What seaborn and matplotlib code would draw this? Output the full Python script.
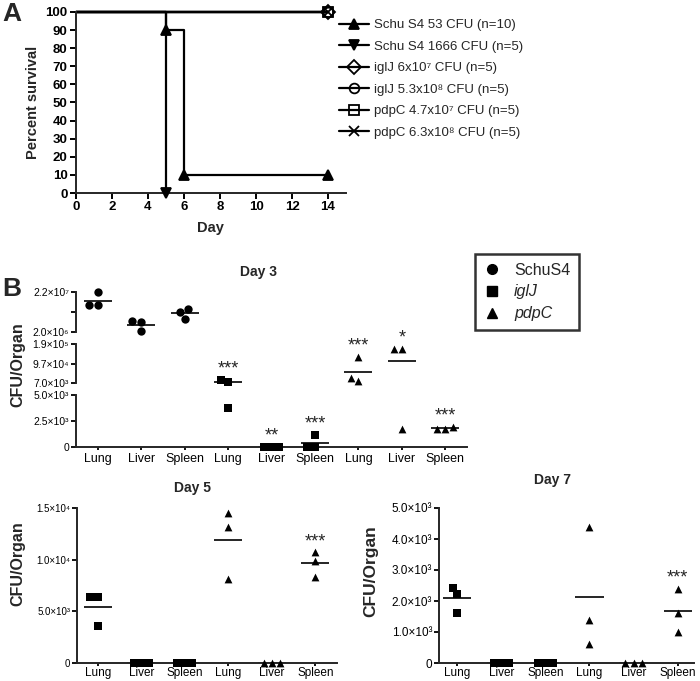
"""
Survival after infection (A) and organ burden on days 3, 5 and 7 (B)
"""
import matplotlib
matplotlib.use("Agg")
import numpy as np
import pandas as pd
import matplotlib.pyplot as plt
from matplotlib.lines import Line2D
import seaborn as sns

# ---- panel A: percent survival over days ----
SURV_LABELS = ["Schu S4 53 CFU (n=10)", "Schu S4 1666 CFU (n=5)",
               "iglJ 6x10⁷ CFU (n=5)", "iglJ 5.3x10⁸ CFU (n=5)",
               "pdpC 4.7x10⁷ CFU (n=5)", "pdpC 6.3x10⁸ CFU (n=5)"]
SURV_DAYS = [[0, 5, 6, 14], [0, 5], [0, 14], [0, 14], [0, 14], [0, 14]]
SURV_PCT = [[100, 90, 10, 10], [100, 0], [100, 100], [100, 100],
            [100, 100], [100, 100]]
SURV_MARKERS = ["^", "v", "D", "o", "s", "x"]
DAY_TICKS = list(range(0, 15, 2))
PCT_TICKS = list(range(0, 101, 10))

# ---- panel B: CFU per organ, three mice per organ ----
ORGANS = ["Lung", "Liver", "Spleen"]
D3_SCHUS4 = [[2.2e7, 1.55e7, 1.55e7], [7.5e6, 7.0e6, 2.5e6], [1.35e7, 1.2e7, 8.5e6]]
D3_IGLJ = [[2.1e4, 1.17e4, 3.75e3], [0, 0, 0], [1150, 0, 0]]
D3_PDPC = [[1.29e5, 3.05e4, 1.64e4], [1.66e5, 1.66e5, 1.73e3], [1.92e3, 1.75e3, 1.75e3]]
D3_STARS = ["", "", "", "***", "**", "***", "***", "*", "***"]
# broken y axis of day 3: (low, high) of each segment, top to bottom
D3_SEGMENTS = [(2.0e6, 2.2e7), (7.0e3, 1.9e5), (0, 5.0e3)]
D3_TICKS = [[2.0e6, 1.2e7, 2.2e7], [7.0e3, 9.7e4, 1.9e5], [0, 2.5e3, 5.0e3]]
D3_TICKLABELS = [["2.0×10⁶", "", "2.2×10⁷"],
                 ["7.0×10³", "9.7×10⁴", "1.9×10⁵"],
                 ["0", "2.5×10³", "5.0×10³"]]

D5_IGLJ = [[6.38e3, 6.38e3, 3.58e3], [0, 0, 0], [0, 0, 0]]
D5_PDPC = [[14.5e3, 13.15e3, 8.1e3], [0, 0, 0], [10.7e3, 9.9e3, 8.3e3]]
D5_STARS = ["", "", "", "", "", "***"]
D5_TICKS = [0, 5.0e3, 1.0e4, 1.5e4]
D5_TICKLABELS = ["0", "5.0×10³", "1.0×10⁴", "1.5×10⁴"]

D7_IGLJ = [[2.42e3, 2.23e3, 1.61e3], [0, 0, 0], [0, 0, 0]]
D7_PDPC = [[4.39e3, 1.39e3, 0.61e3], [0, 0, 0], [2.39e3, 1.61e3, 1.0e3]]
D7_STARS = ["", "", "", "", "", "***"]
D7_TICKS = [0, 1.0e3, 2.0e3, 3.0e3, 4.0e3, 5.0e3]
D7_TICKLABELS = ["0", "1.0×10³", "2.0×10³", "3.0×10³", "4.0×10³", "5.0×10³"]

MARKS = {"SchuS4": ("o", 6.0), "iglJ": ("s", 5.2), "pdpC": ("^", 5.6)}

sns.set_style("ticks")
plt.rcParams["font.family"] = ["Liberation Sans", "DejaVu Sans"]
plt.rcParams["axes.linewidth"] = 1.4

W, H = 700, 681
fig = plt.figure(figsize=(W / 100, H / 100), dpi=100)


def box(l, t, r, b):
    return [l / W, 1 - b / H, (r - l) / W, (b - t) / H]


def style_ticks(ax, size):
    ax.tick_params(axis="y", direction="out", length=3.5, width=1.3, pad=1.5,
                   labelsize=size, colors="black")
    ax.tick_params(axis="x", direction="out", length=2.2, width=1.3, pad=0.8,
                   labelsize=8.5, colors="black")


# ================= A =================
axA = fig.add_axes(box(76, 12, 346, 193))
for days, pct, mk in zip(SURV_DAYS, SURV_PCT, SURV_MARKERS):
    sns.lineplot(x=days, y=pct, drawstyle="steps-post", color="black",
                 linewidth=1.6, estimator=None, sort=False, ax=axA,
                 clip_on=False)
    axA.plot(days[1:], pct[1:], ls="none", marker=mk, ms=7,
             mfc="black" if mk in "^v" else "none", mec="black", mew=1.3,
             clip_on=False, zorder=5)
axA.set_xlim(0, 15)
axA.set_ylim(0, 100)
axA.set_xticks(DAY_TICKS)
axA.set_yticks(PCT_TICKS)
axA.set_xlabel("")
axA.set_ylabel("")
sns.despine(ax=axA)
axA.tick_params(direction="out", length=4, width=1.4, pad=2,
                labelsize=9.5, colors="black")
for t in axA.get_xticklabels() + axA.get_yticklabels():
    t.set_fontweight("bold")
fig.text(33 / W, 1 - 102 / H, "Percent survival", rotation=90, ha="center",
         va="center", fontsize=10.5, fontweight="bold")
fig.text(210 / W, 1 - 228 / H, "Day", ha="center", va="center",
         fontsize=10.5, fontweight="bold")

handles = [Line2D([0], [0], color="black", lw=1.6, marker=mk, ms=7,
                  mfc="black" if mk in "^v" else "none", mec="black", mew=1.3)
           for mk in SURV_MARKERS]
fig.legend(handles, SURV_LABELS, loc="upper left",
           bbox_to_anchor=(339 / W, 1 - 19 / H), frameon=False, fontsize=9.5,
           handlelength=2.3, handletextpad=0.35, labelspacing=0.7,
           borderpad=0, borderaxespad=0)

fig.text(12 / W, 1 - 14 / H, "A", ha="center", va="center", fontsize=19,
         fontweight="bold")
fig.text(12 / W, 1 - 289 / H, "B", ha="center", va="center", fontsize=19,
         fontweight="bold")


# ================= B =================
def long_table(groups):
    rows = []
    for pos, (strain, vals) in enumerate(groups):
        for v in vals:
            rows.append((pos, strain, v))
    return pd.DataFrame(rows, columns=["pos", "strain", "cfu"])


def draw_points(ax, df, n, lo, hi):
    sub = df[(df.cfu >= lo) & (df.cfu <= hi)]
    for strain, (mk, sz) in MARKS.items():
        part = sub[sub.strain == strain]
        if len(part):
            sns.swarmplot(data=part, x="pos", y="cfu", order=list(range(n)),
                          color="black", marker=mk, size=sz, ax=ax,
                          clip_on=False, zorder=3)
    means = df.groupby("pos").cfu.mean()
    ax.hlines(means.values, means.index - 0.32, means.index + 0.32,
              color="black", lw=1.2, zorder=2)


def star(ax, pos, y, s):
    ax.annotate(s, (pos, y), xytext=(0, 4.5), textcoords="offset points",
                ha="center", va="baseline", fontsize=13,
                annotation_clip=False)


def add_stars(ax, df, stars):
    top = df.groupby("pos").cfu.max()
    for pos, s in enumerate(stars):
        if s:
            star(ax, pos, top[pos], s)


def organ_axis(ax, n):
    ax.set_xticks(range(n))
    ax.set_xticklabels((ORGANS * 3)[:n])
    ax.set_xlabel("")
    ax.set_ylabel("")


# ---- day 3, three stacked segments ----
d3 = long_table([("SchuS4", v) for v in D3_SCHUS4] +
                [("iglJ", v) for v in D3_IGLJ] +
                [("pdpC", v) for v in D3_PDPC])
seg_px = [(292, 332), (344, 383), (395, 447)]
d3_axes = []
for k, ((lo, hi), (t, b)) in enumerate(zip(D3_SEGMENTS, seg_px)):
    ax = fig.add_axes(box(76, t, 467, b))
    draw_points(ax, d3, 9, lo, hi)
    ax.set_xlim(-0.5, 8.5)
    ax.set_ylim(lo, hi)
    ax.set_yticks(D3_TICKS[k])
    ax.set_yticklabels(D3_TICKLABELS[k])
    sns.despine(ax=ax, bottom=(k < 2))
    if k < 2:
        ax.set_xticks([])
    else:
        organ_axis(ax, 9)
    ax.set_xlabel("")
    ax.set_ylabel("")
    style_ticks(ax, 7.5)
    ax.tick_params(axis="x", labelsize=9, pad=2)
    d3_axes.append(ax)

top3 = d3.groupby("pos").cfu.max()
for pos, s in enumerate(D3_STARS):
    if s:
        k = next(i for i, (lo, hi) in enumerate(D3_SEGMENTS)
                 if lo <= top3[pos] <= hi)
        star(d3_axes[k], pos, top3[pos], s)
fig.text(258 / W, 1 - 272 / H, "Day 3", ha="center", va="center",
         fontsize=10, fontweight="bold")
fig.text(18 / W, 1 - 365 / H, "CFU/Organ", rotation=90, ha="center",
         va="center", fontsize=11.5, fontweight="bold")

# ---- day 5 ----
d5 = long_table([("iglJ", v) for v in D5_IGLJ] + [("pdpC", v) for v in D5_PDPC])
ax5 = fig.add_axes(box(77, 508, 337, 663))
draw_points(ax5, d5, 6, -1, 1e9)
add_stars(ax5, d5, D5_STARS)
ax5.set_xlim(-0.48, 5.5)
ax5.set_ylim(0, 1.5e4)
ax5.set_yticks(D5_TICKS)
ax5.set_yticklabels(D5_TICKLABELS)
organ_axis(ax5, 6)
sns.despine(ax=ax5)
style_ticks(ax5, 7)
fig.text(193 / W, 1 - 488 / H, "Day 5", ha="center", va="center",
         fontsize=10, fontweight="bold")
fig.text(18 / W, 1 - 564 / H, "CFU/Organ", rotation=90, ha="center",
         va="center", fontsize=11.5, fontweight="bold")

# ---- day 7 ----
d7 = long_table([("iglJ", v) for v in D7_IGLJ] + [("pdpC", v) for v in D7_PDPC])
ax7 = fig.add_axes(box(439, 508, 694, 663))
draw_points(ax7, d7, 6, -1, 1e9)
add_stars(ax7, d7, D7_STARS)
ax7.set_xlim(-0.41, 5.37)
ax7.set_ylim(0, 5.0e3)
ax7.set_yticks(D7_TICKS)
ax7.set_yticklabels(D7_TICKLABELS)
organ_axis(ax7, 6)
sns.despine(ax=ax7)
style_ticks(ax7, 8.5)
fig.text(553 / W, 1 - 480 / H, "Day 7", ha="center", va="center",
         fontsize=10, fontweight="bold")
fig.text(371 / W, 1 - 571 / H, "CFU/Organ", rotation=90, ha="center",
         va="center", fontsize=12.5, fontweight="bold")

# ---- legend for B ----
b_handles = [Line2D([0], [0], ls="none", marker=MARKS[s][0], ms=7,
                    color="black") for s in MARKS]
leg = fig.legend(b_handles, list(MARKS), loc="upper left",
                 bbox_to_anchor=(475 / W, 1 - 254 / H), frameon=True,
                 fancybox=False, edgecolor="black", fontsize=11.5,
                 handlelength=1.0, handletextpad=0.9, labelspacing=0.42,
                 borderpad=0.55, borderaxespad=0)
leg.get_frame().set_linewidth(1.8)
for t in leg.get_texts()[1:]:
    t.set_style("italic")

fig.savefig("out.png", dpi=100, facecolor="white")
